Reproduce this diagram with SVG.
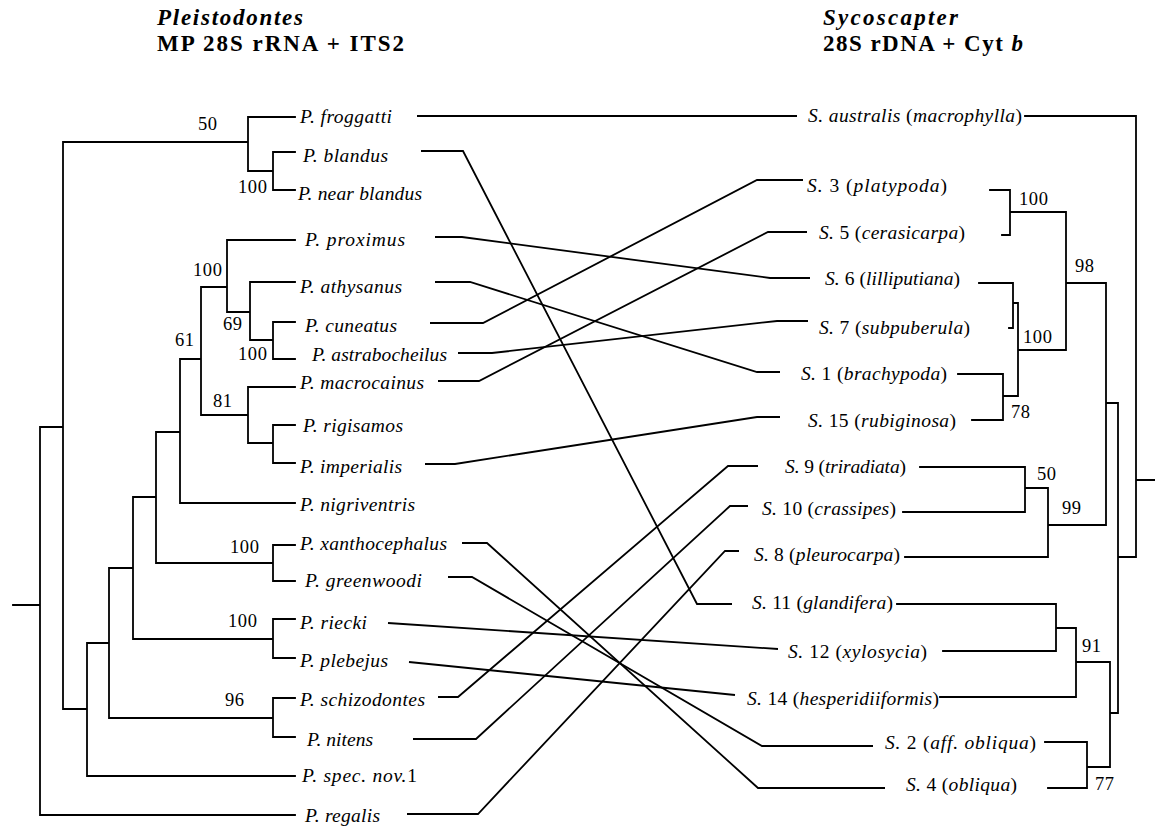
<svg xmlns="http://www.w3.org/2000/svg" width="1155" height="828" viewBox="0 0 1155 828">
<style>
.bg{fill:#fff}
.t{fill:none;stroke:#000;stroke-width:1.8;stroke-linecap:square}
.c{fill:none;stroke:#000;stroke-width:1.8;stroke-linejoin:miter}
.lb{font-family:"Liberation Serif","Times New Roman",serif;font-size:19.5px;font-style:italic;fill:#000}
.r{font-style:normal}
.n{font-family:"Liberation Serif","Times New Roman",serif;font-size:18.5px;fill:#000;letter-spacing:0.6px}
.ti{font-family:"Liberation Serif","Times New Roman",serif;font-size:23px;font-weight:bold;fill:#000}
.it{font-style:italic}
</style>
<rect class="bg" x="0" y="0" width="1155" height="828"/>

<g id="titles">
<text class="ti it" x="157" y="25" textLength="146" lengthAdjust="spacing">Pleistodontes</text>
<text class="ti" x="157" y="51" textLength="247" lengthAdjust="spacing">MP 28S rRNA + ITS2</text>
<text class="ti it" x="823" y="25" textLength="135" lengthAdjust="spacing">Sycoscapter</text>
<text class="ti" x="823" y="51" textLength="200" lengthAdjust="spacing">28S rDNA + Cyt <tspan class="it">b</tspan></text>
</g>

<g id="tree-left">
<path class="t" d="M13,605 H40 M40,427 V815 M40,427 H63 M40,815 H295
M63,142 V709 M63,142 H248 M63,709 H87
M248,117 V171 M248,117 H295 M248,171 H273
M273,152 V190 M273,152 H295 M273,190 H295
M87,643 V776 M87,776 H295 M87,643 H109
M109,568 V718 M109,718 H273 M109,568 H133
M273,698 V737 M273,698 H295 M273,737 H295
M133,497 V639 M133,639 H273 M133,497 H156
M273,619 V658 M273,619 H295 M273,658 H295
M156,432 V563 M156,563 H273 M156,432 H180
M273,545 V581 M273,545 H295 M273,581 H295
M180,359 V503 M180,503 H295 M180,359 H201
M201,287 V415 M201,287 H227 M201,415 H248
M227,240 V312 M227,240 H295 M227,312 H250
M250,282 V340 M250,282 H295 M250,340 H273
M273,322 V359 M273,322 H295 M273,359 H295
M248,387 V443 M248,387 H295 M248,443 H273
M273,425 V463 M273,425 H295 M273,463 H295"/>
<text class="n" x="198" y="130">50</text>
<text class="n" x="238" y="193">100</text>
<text class="n" x="193" y="276">100</text>
<text class="n" x="223" y="330">69</text>
<text class="n" x="238" y="360">100</text>
<text class="n" x="175" y="346">61</text>
<text class="n" x="213" y="407">81</text>
<text class="n" x="230" y="553">100</text>
<text class="n" x="228" y="627">100</text>
<text class="n" x="225" y="706">96</text>
</g>

<g id="tree-right">
<path class="t" d="M1136,480 H1155 M1136,116 V557 M1025,116 H1136 M1118,557 H1136
M1118,403 V713 M1106,403 H1118 M1110,713 H1118
M1106,283 V525 M1066,283 H1106 M1048,525 H1106
M1066,212 V350 M1010,212 H1066 M1018,350 H1066
M1010,190 V235 M990,190 H1010 M1002,235 H1010
M1018,303 V396 M1013,303 H1018 M1003,396 H1018
M1013,283 V328 M979,283 H1013 M1009,328 H1013
M1003,374 V420 M958,374 H1003 M972,420 H1003
M1048,488 V557 M1025,488 H1048 M905,557 H1048
M1025,467 V512 M920,467 H1025 M903,512 H1025
M1110,662 V767 M1076,662 H1110 M1087,767 H1110
M1076,628 V697 M1056,628 H1076 M940,697 H1076
M1056,604 V651 M897,604 H1056 M943,651 H1056
M1087,742 V788 M1045,742 H1087 M1048,788 H1087"/>
<text class="n" x="1019" y="205">100</text>
<text class="n" x="1075" y="272">98</text>
<text class="n" x="1023" y="343">100</text>
<text class="n" x="1011" y="418">78</text>
<text class="n" x="1037" y="480">50</text>
<text class="n" x="1062" y="514">99</text>
<text class="n" x="1082" y="652">91</text>
<text class="n" x="1095" y="790">77</text>
</g>

<g id="connectors">
<path class="c" d="M417,116 H797"/>
<path class="c" d="M421,151 H463 L697,604 H732"/>
<path class="c" d="M435,237 H462 L770,278 H810"/>
<path class="c" d="M435,282 H470 L757,372 H780"/>
<path class="c" d="M430,323 H483 L757,180 H803"/>
<path class="c" d="M458,353 H492 L777,321 H808"/>
<path class="c" d="M438,381 H479 L768,232 H807"/>
<path class="c" d="M425,464 H455 L757,417 H780"/>
<path class="c" d="M462,543 H487 L758,788 H885"/>
<path class="c" d="M448,577 H472 L762,746 H873"/>
<path class="c" d="M388,623 L778,649"/>
<path class="c" d="M409,662 L735,695"/>
<path class="c" d="M438,697 H458 L728,466 H758"/>
<path class="c" d="M413,739 H476 L730,506 H748"/>
<path class="c" d="M407,814 H478 L725,551 H739"/>
</g>

<g id="p-froggatti"><text class="lb" x="300" y="123" textLength="92" lengthAdjust="spacing">P. froggatti</text></g>
<g id="p-blandus"><text class="lb" x="303" y="162" textLength="85" lengthAdjust="spacing">P. blandus</text></g>
<g id="p-near-blandus"><text class="lb" x="298" y="200" textLength="124" lengthAdjust="spacing">P. near blandus</text></g>
<g id="p-proximus"><text class="lb" x="305" y="246" textLength="100" lengthAdjust="spacing">P. proximus</text></g>
<g id="p-athysanus"><text class="lb" x="300" y="293" textLength="102" lengthAdjust="spacing">P. athysanus</text></g>
<g id="p-cuneatus"><text class="lb" x="305" y="332" textLength="92" lengthAdjust="spacing">P. cuneatus</text></g>
<g id="p-astrabocheilus"><text class="lb" x="312" y="361" textLength="135" lengthAdjust="spacing">P. astrabocheilus</text></g>
<g id="p-macrocainus"><text class="lb" x="300" y="389" textLength="124" lengthAdjust="spacing">P. macrocainus</text></g>
<g id="p-rigisamos"><text class="lb" x="303" y="432" textLength="100" lengthAdjust="spacing">P. rigisamos</text></g>
<g id="p-imperialis"><text class="lb" x="300" y="473" textLength="102" lengthAdjust="spacing">P. imperialis</text></g>
<g id="p-nigriventris"><text class="lb" x="300" y="511" textLength="115" lengthAdjust="spacing">P. nigriventris</text></g>
<g id="p-xanthocephalus"><text class="lb" x="300" y="550" textLength="147" lengthAdjust="spacing">P. xanthocephalus</text></g>
<g id="p-greenwoodi"><text class="lb" x="305" y="587" textLength="117" lengthAdjust="spacing">P. greenwoodi</text></g>
<g id="p-riecki"><text class="lb" x="300" y="629" textLength="67" lengthAdjust="spacing">P. riecki</text></g>
<g id="p-plebejus"><text class="lb" x="300" y="667" textLength="88" lengthAdjust="spacing">P. plebejus</text></g>
<g id="p-schizodontes"><text class="lb" x="300" y="706" textLength="125" lengthAdjust="spacing">P. schizodontes</text></g>
<g id="p-nitens"><text class="lb" x="307" y="746" textLength="66" lengthAdjust="spacing">P. nitens</text></g>
<g id="p-spec-nov1"><text class="lb" x="302" y="782" textLength="115" lengthAdjust="spacing">P. spec. nov.<tspan class="r">1</tspan></text></g>
<g id="p-regalis"><text class="lb" x="305" y="822" textLength="75" lengthAdjust="spacing">P. regalis</text></g>

<g id="s-australis"><text class="lb" x="808" y="122" textLength="214" lengthAdjust="spacing">S. australis <tspan class="r">(</tspan>macrophylla<tspan class="r">)</tspan></text></g>
<g id="s-3"><text class="lb" x="807" y="192" textLength="140" lengthAdjust="spacing">S.<tspan class="r"> 3 (</tspan>platypoda<tspan class="r">)</tspan></text></g>
<g id="s-5"><text class="lb" x="819" y="239" textLength="146" lengthAdjust="spacing">S.<tspan class="r"> 5 (</tspan>cerasicarpa<tspan class="r">)</tspan></text></g>
<g id="s-6"><text class="lb" x="825" y="285" textLength="135" lengthAdjust="spacing">S.<tspan class="r"> 6 (</tspan>lilliputiana<tspan class="r">)</tspan></text></g>
<g id="s-7"><text class="lb" x="819" y="334" textLength="151" lengthAdjust="spacing">S.<tspan class="r"> 7 (</tspan>subpuberula<tspan class="r">)</tspan></text></g>
<g id="s-1"><text class="lb" x="801" y="380" textLength="146" lengthAdjust="spacing">S.<tspan class="r"> 1 (</tspan>brachypoda<tspan class="r">)</tspan></text></g>
<g id="s-15"><text class="lb" x="808" y="427" textLength="148" lengthAdjust="spacing">S.<tspan class="r"> 15 (</tspan>rubiginosa<tspan class="r">)</tspan></text></g>
<g id="s-9"><text class="lb" x="785" y="473" textLength="121" lengthAdjust="spacing">S.<tspan class="r"> 9 (</tspan>triradiata<tspan class="r">)</tspan></text></g>
<g id="s-10"><text class="lb" x="762" y="515" textLength="134" lengthAdjust="spacing">S.<tspan class="r"> 10 (</tspan>crassipes<tspan class="r">)</tspan></text></g>
<g id="s-8"><text class="lb" x="754" y="561" textLength="146" lengthAdjust="spacing">S.<tspan class="r"> 8 (</tspan>pleurocarpa<tspan class="r">)</tspan></text></g>
<g id="s-11"><text class="lb" x="752" y="609" textLength="141" lengthAdjust="spacing">S.<tspan class="r"> 11 (</tspan>glandifera<tspan class="r">)</tspan></text></g>
<g id="s-12"><text class="lb" x="788" y="658" textLength="139" lengthAdjust="spacing">S.<tspan class="r"> 12 (</tspan>xylosycia<tspan class="r">)</tspan></text></g>
<g id="s-14"><text class="lb" x="747" y="705" textLength="192" lengthAdjust="spacing">S.<tspan class="r"> 14 (</tspan>hesperidiiformis<tspan class="r">)</tspan></text></g>
<g id="s-2"><text class="lb" x="885" y="749" textLength="151" lengthAdjust="spacing">S.<tspan class="r"> 2  (</tspan>aff. obliqua<tspan class="r">)</tspan></text></g>
<g id="s-4"><text class="lb" x="906" y="791" textLength="111" lengthAdjust="spacing">S.<tspan class="r"> 4 (</tspan>obliqua<tspan class="r">)</tspan></text></g>
</svg>
